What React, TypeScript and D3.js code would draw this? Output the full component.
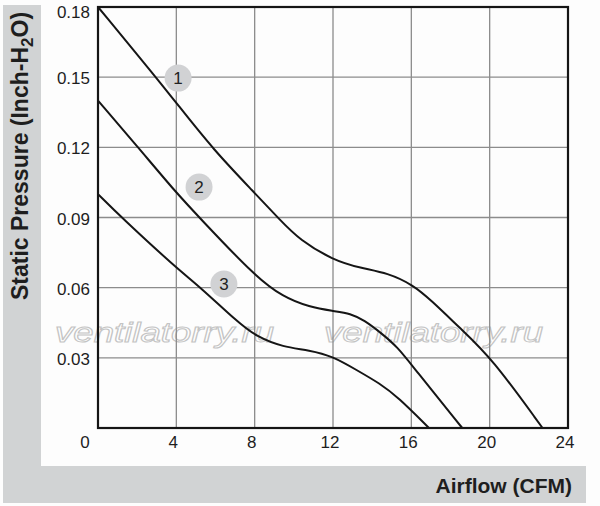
import React, { useEffect, useRef } from 'react';
import * as d3 from 'd3';

// curve 1
const airflow1 = [0, 2.96, 4, 5.9, 8, 9.3, 10.3, 12, 13.4, 14.8, 16.1, 17, 18.5, 20.1, 22.7];
const pressure1 = [0.18, 0.15, 0.139, 0.1189, 0.1005, 0.0889, 0.0804, 0.0718, 0.0684, 0.0663, 0.0611, 0.0547, 0.0426, 0.03, 0];
// curve 2
const airflow2 = [0, 2.05, 4, 5.2, 8, 9.45, 10.8, 12, 12.9, 13.6, 14.4, 15.3, 16.1, 18.6];
const pressure2 = [0.14, 0.12, 0.1005, 0.0898, 0.065, 0.056, 0.0517, 0.05, 0.049, 0.046, 0.041, 0.0346, 0.026, 0];
// curve 3
const airflow3 = [0, 1.2, 4, 5.2, 7.1, 8.1, 9.45, 10.8, 12, 13.2, 14.4, 15.3, 16.9];
const pressure3 = [0.1, 0.09, 0.0684, 0.0604, 0.0455, 0.039, 0.0346, 0.0333, 0.0306, 0.0248, 0.019, 0.0133, 0];

const curveNames = ['1', '2', '3'];
const labelAirflow = [4.09, 5.16, 6.43];
const labelPressure = [0.1496, 0.103, 0.0616];

const xTicks = [0, 4, 8, 12, 16, 20, 24];
const yTicks = [0.03, 0.06, 0.09, 0.12, 0.15, 0.18];

const W = 600;
const H = 506;

export default function App() {
  const svgRef = useRef<SVGSVGElement>(null);

  useEffect(() => {
    if (!svgRef.current) return;
    const svg = d3.select(svgRef.current);
    svg.selectAll('*').remove();

    const x = d3.scaleLinear().domain([0, 24]).range([98, 568]);
    const y = d3.scaleLinear().domain([0, 0.18]).range([428, 7]);

    // 背景
    svg.append('rect').attr('x', 0).attr('y', 0).attr('width', W).attr('height', H).attr('fill', '#fdfdfd');
    svg.append('rect').attr('x', 3).attr('y', 5).attr('width', 583).attr('height', 498).attr('fill', '#d1d3d4');
    svg.append('rect').attr('x', 41).attr('y', 0).attr('width', W - 41).attr('height', 466).attr('fill', '#fdfdfd');

    // watermark
    [55, 324].forEach(wx => {
      svg.append('text')
        .attr('x', wx)
        .attr('y', 342)
        .attr('textLength', 219)
        .attr('lengthAdjust', 'spacingAndGlyphs')
        .style('font-family', 'Liberation Sans, Arial, sans-serif')
        .style('font-style', 'italic')
        .style('font-size', '27px')
        .attr('fill', '#ffffff')
        .attr('stroke', '#c4c4c4')
        .attr('stroke-width', 1)
        .text('ventilatorry.ru');
    });

    // grid
    const g = svg.append('g');
    xTicks.slice(1, -1).forEach(t => {
      g.append('line')
        .attr('x1', x(t)).attr('x2', x(t))
        .attr('y1', y(0.18)).attr('y2', y(0))
        .attr('stroke', '#8c8c8c').attr('stroke-width', 1.3);
    });
    yTicks.slice(0, -1).forEach(t => {
      g.append('line')
        .attr('x1', x(0)).attr('x2', x(24))
        .attr('y1', y(t)).attr('y2', y(t))
        .attr('stroke', '#8c8c8c').attr('stroke-width', 1.3);
    });

    // curves
    const line = d3.line<[number, number]>()
      .x(d => x(d[0]))
      .y(d => y(d[1]))
      .curve(d3.curveBasis);

    const series = [
      [airflow1, pressure1],
      [airflow2, pressure2],
      [airflow3, pressure3],
    ];
    series.forEach(([af, pr]) => {
      svg.append('path')
        .datum(af.map((v, i) => [v, pr[i]] as [number, number]))
        .attr('fill', 'none')
        .attr('stroke', '#151515')
        .attr('stroke-width', 2)
        .attr('d', line);
    });

    // frame
    svg.append('rect')
      .attr('x', x(0)).attr('y', y(0.18))
      .attr('width', x(24) - x(0)).attr('height', y(0) - y(0.18))
      .attr('fill', 'none')
      .attr('stroke', '#151515')
      .attr('stroke-width', 2.2);

    // curve labels
    curveNames.forEach((name, i) => {
      svg.append('circle')
        .attr('cx', x(labelAirflow[i]))
        .attr('cy', y(labelPressure[i]))
        .attr('r', 13.5)
        .attr('fill', '#d1d2d4');
      svg.append('text')
        .attr('x', x(labelAirflow[i]))
        .attr('y', y(labelPressure[i]) + 6)
        .attr('text-anchor', 'middle')
        .style('font-family', 'Liberation Sans, Arial, sans-serif')
        .style('font-size', '17px')
        .attr('fill', '#222')
        .text(name);
    });

    // tick labels
    yTicks.forEach(t => {
      svg.append('text')
        .attr('x', 90)
        .attr('y', Math.max(y(t) + 7, 18))
        .attr('text-anchor', 'end')
        .style('font-family', 'Liberation Sans, Arial, sans-serif')
        .style('font-size', '17px')
        .attr('fill', '#1e1e1e')
        .text(d3.format('.2f')(t));
    });
    xTicks.forEach(t => {
      svg.append('text')
        .attr('x', t === 0 ? x(t) - 13 : x(t) - 3)
        .attr('y', 448)
        .attr('text-anchor', 'middle')
        .style('font-family', 'Liberation Sans, Arial, sans-serif')
        .style('font-size', '17px')
        .attr('fill', '#1e1e1e')
        .text(String(t));
    });

    // axis titles
    svg.append('text')
      .attr('x', 572)
      .attr('y', 493)
      .attr('text-anchor', 'end')
      .style('font-family', 'Liberation Sans, Arial, sans-serif')
      .style('font-size', '21px')
      .style('font-weight', 'bold')
      .attr('fill', '#1e1e1e')
      .text('Airflow (CFM)');

    const yt = svg.append('text')
      .attr('transform', 'translate(28,156) rotate(-90)')
      .attr('text-anchor', 'middle')
      .style('font-family', 'Liberation Sans, Arial, sans-serif')
      .style('font-size', '23px')
      .style('font-weight', 'bold')
      .attr('fill', '#1e1e1e');
    yt.append('tspan').text('Static Pressure (Inch-H');
    yt.append('tspan').attr('dy', 5).style('font-size', '17px').text('2');
    yt.append('tspan').attr('dy', -5).text('O)');
  }, []);

  return (
    <svg
      ref={svgRef}
      width={W}
      height={H}
      style={{ position: 'absolute', left: 0, top: 0 }}
    />
  );
}
